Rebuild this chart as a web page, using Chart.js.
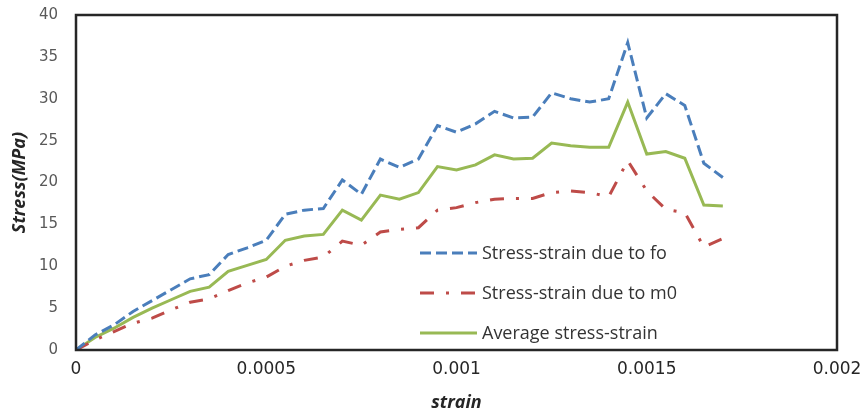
<!DOCTYPE html>
<html>
<head>
<meta charset="utf-8">
<script src="https://cdn.jsdelivr.net/npm/chart.js@4.4.1/dist/chart.umd.min.js"></script>
<style>
  html, body { margin: 0; padding: 0; background: #fff; }
  #wrap { width: 865px; height: 414px; }
</style>
</head>
<body>
<div id="wrap"><canvas id="myChart" width="865" height="414"></canvas></div>
<script>
const strain = [0, 0.00005, 0.0001, 0.00015, 0.0002, 0.00025, 0.0003, 0.00035, 0.0004, 0.00045,
  0.0005, 0.00055, 0.0006, 0.00065, 0.0007, 0.00075, 0.0008, 0.00085, 0.0009, 0.00095,
  0.001, 0.00105, 0.0011, 0.00115, 0.0012, 0.00125, 0.0013, 0.00135, 0.0014, 0.00145,
  0.0015, 0.00155, 0.0016, 0.00165, 0.0017]

const stressFo = [0, 1.8, 3.0, 4.6, 5.9, 7.2, 8.5, 9.0, 11.4, 12.2,
  13.1, 16.2, 16.7, 16.9, 20.3, 18.6, 22.8, 21.8, 22.8, 26.8,
  26.0, 27.0, 28.5, 27.7, 27.8, 30.7, 30.0, 29.6, 30.0, 36.7,
  27.7, 30.6, 29.2, 22.3, 20.6]

const stressM0 = [0, 1.2, 2.2, 3.2, 3.8, 4.8, 5.7, 6.1, 7.1, 8.0,
  8.7, 10.0, 10.7, 11.1, 13.0, 12.5, 14.1, 14.4, 14.6, 16.7,
  17.0, 17.6, 18.0, 18.1, 18.1, 18.8, 19.0, 18.8, 18.3, 22.6,
  19.0, 16.8, 16.4, 12.3, 13.3]

const stressAvg = [0, 1.5, 2.6, 3.9, 5.0, 6.0, 7.0, 7.5, 9.4, 10.1,
  10.8, 13.1, 13.6, 13.8, 16.7, 15.5, 18.5, 18.0, 18.8, 21.9,
  21.5, 22.1, 23.3, 22.8, 22.9, 24.7, 24.4, 24.2, 24.2, 29.6,
  23.4, 23.7, 22.9, 17.3, 17.2]

const seriesNames = ["Stress-strain due to fo", "Stress-strain due to m0", "Average stress-strain"]
const xTicks = [0, 0.0005, 0.001, 0.0015, 0.002]
const yTicks = [0, 5, 10, 15, 20, 25, 30, 35, 40]

const toPoints = (ys) => strain.map((x, i) => ({ x: x, y: ys[i] }))

// frame round the plot area + legend drawn inside it
const framePlugin = {
  id: "frame",
  afterDraw(chart) {
    const { ctx, chartArea } = chart
    ctx.save()
    ctx.strokeStyle = "#262626"
    ctx.lineWidth = 2.5
    ctx.strokeRect(chartArea.left, chartArea.top, chartArea.right - chartArea.left, chartArea.bottom - chartArea.top)

    const lx = 420, lw = 57, tx = 482
    const rows = [253, 293, 333]
    chart.data.datasets.forEach((ds, i) => {
      const y = rows[i]
      ctx.beginPath()
      ctx.strokeStyle = ds.borderColor
      ctx.lineWidth = ds.borderWidth
      ctx.setLineDash(ds.borderDash || [])
      ctx.moveTo(lx, y)
      ctx.lineTo(lx + lw, y)
      ctx.stroke()
      ctx.setLineDash([])
      ctx.fillStyle = "#333"
      ctx.font = "18px 'Open Sans'"
      ctx.textBaseline = "middle"
      ctx.fillText(ds.label, tx, y + 1)
    })
    ctx.restore()
  },
}

const data = {
  datasets: [
    {
      label: seriesNames[0],
      data: toPoints(stressFo),
      borderColor: "#4A7EBB",
      borderWidth: 3,
      borderDash: [11, 5],
      pointRadius: 0,
      fill: false,
    },
    {
      label: seriesNames[1],
      data: toPoints(stressM0),
      borderColor: "#BE4B48",
      borderWidth: 3,
      borderDash: [14, 12, 3, 12],
      pointRadius: 0,
      fill: false,
    },
    {
      label: seriesNames[2],
      data: toPoints(stressAvg),
      borderColor: "#98B954",
      borderWidth: 3,
      pointRadius: 0,
      fill: false,
    },
  ],
}

const config = {
  type: "line",
  data,
  options: {
    responsive: false,
    animation: false,
    layout: { padding: { top: 15, right: 28, left: 0, bottom: 0 } },
    plugins: { legend: { display: false }, tooltip: { enabled: false } },
    scales: {
      x: {
        type: "linear",
        min: 0,
        max: 0.002,
        afterFit: (s) => { s.height = 64; s.paddingLeft = 0; s.paddingRight = 0 },
        afterBuildTicks: (s) => { s.ticks = xTicks.map((v) => ({ value: v })) },
        grid: { display: false, drawTicks: false },
        border: { display: false },
        ticks: {
          padding: 9,
          color: "#262626",
          font: { family: "DejaVu Sans", size: 17 },
          callback: (v) => String(Number(v.toFixed(4))),
        },
        title: {
          display: true,
          text: "strain",
          color: "#262626",
          padding: { top: 0, bottom: 0 },
          font: { family: "Open Sans", size: 18, weight: "bold", style: "italic" },
        },
      },
      y: {
        min: 0,
        max: 40,
        afterFit: (s) => { s.width = 76; s.paddingTop = 0; s.paddingBottom = 0 },
        afterBuildTicks: (s) => { s.ticks = yTicks.map((v) => ({ value: v })) },
        grid: { display: false, drawTicks: false },
        border: { display: false },
        ticks: {
          padding: 18,
          color: "#595959",
          font: { family: "DejaVu Sans", size: 15 },
        },
        title: {
          display: true,
          text: "Stress(MPa)",
          color: "#262626",
          padding: { top: 9, bottom: 0 },
          font: { family: "Open Sans", size: 18, weight: "bold", style: "italic" },
        },
      },
    },
  },
  plugins: [framePlugin],
}

new Chart(document.getElementById("myChart"), config)
</script>
</body>
</html>
